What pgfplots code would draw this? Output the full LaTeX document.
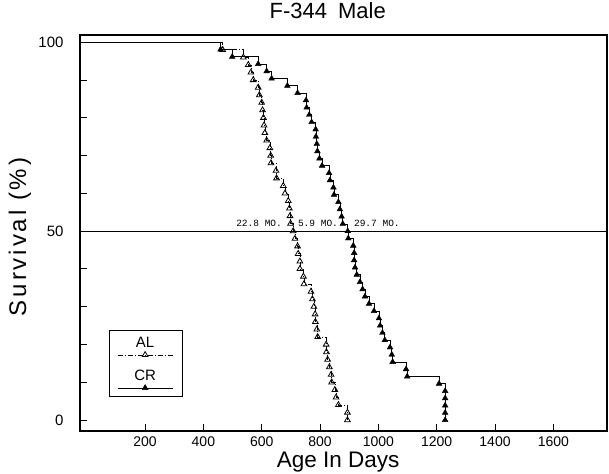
\documentclass[border=0pt]{standalone}
\usepackage{fontspec}
\setmainfont{Liberation Sans}
\setmonofont{Liberation Mono}
\usepackage{pgfplots}
\pgfplotsset{compat=1.18}
\usepackage{pgfplotstable}

% Kaplan-Meier survival, ad libitum fed group (n = 50): day of death, percent surviving
\pgfplotstableread{
day surv
-23 100
466 98
537 96
554 94
563 92
571 90
588 88
592 86
600 84
603 82
606 80
608 78
611 76
617 74
628 72
631 70
632 68
649 66
651 64
674 62
680 60
691 58
695 56
697 54
699 52
708 50
714 48
723 46
725 44
731 42
731 40
743 38
745 36
769 34
774 32
779 30
783 28
784 26
789 24
792 22
821 20
822 18
826 16
832 14
838 12
840 10
851 8
855 6
863 4
894 2
894 0
}\ALdata

% Kaplan-Meier survival, calorie restricted group (n = 52)
\pgfplotstableread{
day surv
-23 100
459 98.08
499 96.15
588 94.23
617 92.31
634 90.38
688 88.46
723 86.54
752 84.62
754 82.69
763 80.77
771 78.85
785 76.92
786 75.00
789 73.08
791 71.15
798 69.23
807 67.31
831 65.38
834 63.46
846 61.54
848 59.62
863 57.69
868 55.77
874 53.85
878 51.92
895 50.00
897 48.08
914 46.15
917 44.23
917 42.31
920 40.38
926 38.46
937 36.54
946 34.62
954 32.69
968 30.77
985 28.85
1002 26.92
1006 25.00
1014 23.08
1022 21.15
1040 19.23
1046 17.31
1049 15.38
1095 13.46
1099 11.54
1208 9.62
1229 7.69
1229 5.77
1229 3.85
1229 1.92
1229 0
}\CRdata

\begin{document}
\begin{tikzpicture}
\begin{axis}[
  scale only axis,
  width=527pt, height=396pt,
  xmin=-23, xmax=1784,
  ymin=-2.9, ymax=101.9,
  axis line style={line width=1.4pt},
  tick pos=left,
  tick align=inside,
  major tick length=7pt,
  every tick/.style={black, line width=0.9pt},
  xtick={200,400,...,1600},
  ytick={0,10,...,100},
  yticklabels={0,,,,,50,,,,,100},
  /pgf/number format/assume math mode=true,
  /pgf/number format/1000 sep={},
  xticklabel style={font=\fontsize{14}{14}\selectfont, inner sep=1pt, yshift=-5pt},
  yticklabel style={font=\fontsize{15}{15}\selectfont, xshift=-13pt},
  title={F-344\enspace Male},
  title style={at={(axis description cs:0.47,1)}, anchor=base, yshift=10pt, font=\fontsize{22}{22}\selectfont},
  xlabel={Age In Days},
  xlabel style={at={(axis description cs:0.49,0)}, anchor=base, inner sep=0pt, yshift=-36pt, font=\fontsize{22.5}{22.5}\selectfont},
  ylabel={\addfontfeature{LetterSpace=12}Survival (\%)},
  ylabel style={at={(axis description cs:-0.114,0.49)}, anchor=center, font=\fontsize{24}{24}\selectfont},
  legend style={at={(axis description cs:0.055,0.086)}, anchor=south west,
    draw=black, line width=0.6pt, fill=white,
    inner xsep=8pt, inner ysep=7pt, row sep=14pt, nodes={inner sep=0pt}},
]
% median survival reference line
\addplot[forget plot, black, line width=1pt] coordinates {(-23,50) (1784,50)};

% AL step curve and its marks
\addplot[forget plot, const plot, black, line width=0.6pt,
  dash pattern=on 5pt off 2pt on 1pt off 2pt] table[x=day,y=surv] {\ALdata};
\addplot[only marks, black, mark=triangle, mark size=3.3pt,
  mark options={line width=0.8pt, fill=white},
  skip coords between index={0}{1},
  legend image code/.code={
    \draw[line width=0.6pt, dash pattern=on 5pt off 2pt on 1pt off 2pt] (0pt,0pt) -- (55pt,0pt);
    \draw plot coordinates {(27.5pt,0pt)};
    \node[anchor=base, font=\fontsize{15}{15}\selectfont] at (27.5pt,7pt) {AL};
  }] table[x=day,y=surv] {\ALdata};
\addlegendentry{}

% CR step curve and its marks
\addplot[forget plot, const plot, black, line width=0.7pt] table[x=day,y=surv] {\CRdata};
\addplot[only marks, black, mark=triangle*, mark size=3.3pt,
  skip coords between index={0}{1},
  legend image code/.code={
    \draw[line width=0.7pt] (0pt,0pt) -- (55pt,0pt);
    \draw plot coordinates {(27.5pt,0pt)};
    \node[anchor=base, font=\fontsize{15}{15}\selectfont] at (27.5pt,7pt) {CR};
  }] table[x=day,y=surv] {\CRdata};
\addlegendentry{}

% median ages and their difference
\node[anchor=base, font=\ttfamily\fontsize{9.5}{9.5}\selectfont] at (axis cs:591,51.2) {22.8 MO.};
\node[anchor=base, font=\ttfamily\fontsize{9.5}{9.5}\selectfont] at (axis cs:793,51.2) {5.9 MO.};
\node[anchor=base, font=\ttfamily\fontsize{9.5}{9.5}\selectfont] at (axis cs:995,51.2) {29.7 MO.};
\end{axis}
\pgfresetboundingbox
\path ([xshift=-80pt,yshift=-42pt]current axis.south west) rectangle ([xshift=2pt,yshift=35pt]current axis.north east);
\end{tikzpicture}
\end{document}
